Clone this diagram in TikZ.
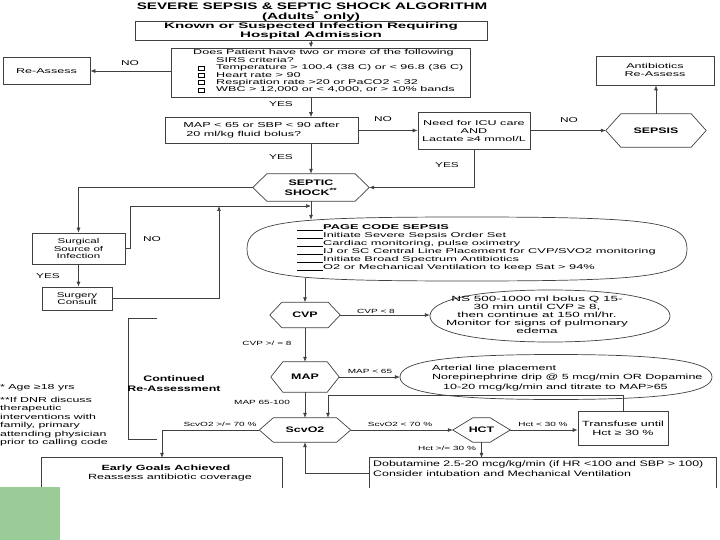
\documentclass[tikz,border=0pt]{standalone}
\usepackage{fontspec}
\setmainfont{Liberation Sans}
\usetikzlibrary{arrows.meta,calc}
\newcommand\fs[3]{\fontsize{#1}{#2}\selectfont\addfontfeature{FakeStretch=#3}}
\newcommand\sqbox{\hspace*{5pt}{\setlength{\fboxsep}{0pt}\setlength{\fboxrule}{0.5pt}\fbox{\rule{0pt}{3.5pt}\hspace{5.5pt}}}}
\newcommand\blank{\rule[-0.5pt]{26pt}{0.5pt}}
\definecolor{greenbox}{RGB}{155,204,152}
\tikzset{
 every node/.style={text=black},
 box/.style={draw=black!75, line width=0.7pt, rectangle, inner sep=0pt},
 ln/.style={draw=black!75, line width=0.7pt},
 arr/.style={ln, -{Latex[length=5pt,width=4pt]}},
 body/.style={font=\fs{7}{8}{1.8}, align=center},
 lab/.style={font=\fs{6}{7}{1.67}, inner sep=0pt},
 yn/.style={font=\fs{7}{8}{1.7}, inner sep=0pt},
 hextxt/.style={font=\bfseries\fs{8}{9.5}{1.55}, align=center, inner sep=0pt},
}
\newcommand\hexa[7]{%
 \node[hextxt, minimum width=#4pt, minimum height=#5pt] (#1) at (#2,#3) {#7};
 \draw[ln] (#1.west) -- ([xshift=#6pt]#1.north west) -- ([xshift=-#6pt]#1.north east) -- (#1.east) -- ([xshift=-#6pt]#1.south east) -- ([xshift=#6pt]#1.south west) -- cycle;}
\newcommand\ovalpath[5]{%
 \draw[ln] ({#1-#3},#2) .. controls ({#1-#3},{#2-#5*#4}) and ({#1-#5*#3},{#2-#4}) .. (#1,{#2-#4})
 .. controls ({#1+#5*#3},{#2-#4}) and ({#1+#3},{#2-#5*#4}) .. ({#1+#3},#2)
 .. controls ({#1+#3},{#2+#5*#4}) and ({#1+#5*#3},{#2+#4}) .. (#1,{#2+#4})
 .. controls ({#1-#5*#3},{#2+#4}) and ({#1-#3},{#2+#5*#4}) .. ({#1-#3},#2) -- cycle;}
\begin{document}
\begin{tikzpicture}[x=1pt,y=-1pt]
\useasboundingbox (0,0) rectangle (720,540);
\coordinate (c1) at (311,0);
\coordinate (c2) at (305,0);
\coordinate (c3) at (328,0);
\coordinate (join) at (311,206);
\coordinate (up1) at (219,206);

% title
\node[font=\bfseries\fs{9.5}{10}{1.6}, inner sep=0] (title) at (312,6) {SEVERE SEPSIS \& SEPTIC SHOCK ALGORITHM};
\node[font=\bfseries\fs{9}{10}{1.7}, inner sep=0] (adults) at (311,16.5) {(Adults\textsuperscript{*} only)};

\node[box, minimum width=352pt, minimum height=19pt, font=\bfseries\fs{8}{8.5}{1.9}, align=center] (known) at (311,31) {Known or Suspected Infection Requiring\\Hospital Admission};

% SIRS
\node[box, minimum width=299pt, minimum height=49pt] (sirs) at (320.5,72.5) {};
\node[anchor=north west, inner sep=0, font=\fs{7}{7.4}{1.8}] (sirstxt) at (193,49.5) {\begin{tabular}{@{}p{23pt}@{}l@{}}
\multicolumn{2}{@{}l@{}}{Does Patient have two or more of the following}\\
 & SIRS criteria?\\
\sqbox & Temperature > 100.4 (38 C) or < 96.8 (36 C)\\
\sqbox & Heart rate > 90\\
\sqbox & Respiration rate >20 or PaCO2 < 32\\
\sqbox & WBC > 12,000 or < 4,000, or > 10\% bands
\end{tabular}};

\node[box, minimum width=87pt, minimum height=27pt, body] (reassess) at (46.5,71) {Re-Assess};
\node[yn] (no1) at (130,63) {NO};
\node[yn] (yes1) at (281,104) {YES};

\node[box, minimum width=193pt, minimum height=26pt, font=\fs{7.2}{9}{1.75}, align=left] (mapq) at (261.5,130.5) {MAP < 65 or SBP < 90 after\\\hspace*{3pt}20 ml/kg fluid bolus?};
\node[yn] (no2) at (383,119) {NO};
\node[box, minimum width=112pt, minimum height=37pt, body] (icu) at (474,130.5) {Need for ICU care\\AND\\Lactate ≥4 mmol/L};
\node[yn] (no3) at (569,120) {NO};
\hexa{sepsis}{656}{130.5}{100}{33}{15}{SEPSIS}
\node[box, minimum width=118pt, minimum height=29pt, body] (abx) at (655,70.5) {Antibiotics\\Re-Assess};

\node[yn] (yes2) at (281,157) {YES};
\node[yn] (yes3) at (447,165) {YES};
\hexa{shock}{311}{187.5}{116}{27}{14}{SEPTIC\\SHOCK\textsuperscript{**}}

\node[box, minimum width=93pt, minimum height=31pt, font=\fs{7}{7.7}{1.65}, align=center] (surg) at (78.5,248.5) {Surgical\\Source of\\Infection};
\node[yn] (no4) at (152,239) {NO};
\node[yn] (yes4) at (48,276) {YES};
\node[box, minimum width=70pt, minimum height=23pt, font=\fs{7}{7.5}{1.65}, align=center] (consult) at (77,298.5) {Surgery\\Consult};

% PAGE oval
\node[minimum width=440pt, minimum height=64pt, inner sep=0] (page) at (467,249) {};
\ovalpath{467}{249}{220}{32}{0.85}
\node[anchor=north west, inner sep=0, font=\fs{7}{8}{1.83}] (pagetxt) at (297,224) {\begin{tabular}{@{}l@{}}
\blank\textbf{PAGE CODE SEPSIS}\\
\blank Initiate Severe Sepsis Order Set\\
\blank Cardiac monitoring, pulse oximetry\\
\blank IJ or SC Central Line Placement for CVP/SVO2 monitoring\\
\blank Initiate Broad Spectrum Antibiotics\\
\blank O2 or Mechanical Ventilation to keep Sat > 94\%
\end{tabular}};

% main column
\hexa{cvp}{305}{315}{70}{25}{12}{CVP}
\hexa{map}{305}{377}{68}{30}{12}{MAP}
\hexa{scv}{305}{430}{91}{24}{14}{ScvO2}
\hexa{hct}{481.5}{430}{57}{24}{20}{HCT}

\node[minimum width=240pt, minimum height=52pt, inner sep=0] (ns) at (550,316) {};
\ovalpath{550}{316}{120}{26}{0.62}
\node[font=\fs{7.5}{8}{1.8}, align=center, inner sep=0] (nstxt) at (537,315) {NS 500-1000 ml bolus Q 15-\\30 min until CVP ≥ 8,\\then continue at 150 ml/hr.\\Monitor for signs of pulmonary\\edema};

\node[minimum width=312pt, minimum height=45pt, inner sep=0] (art) at (556,377) {};
\ovalpath{556}{377}{156}{22.5}{0.7}
\node[anchor=west, font=\fs{7.5}{9.5}{1.67}, align=left, inner sep=0] (arttxt) at (432,378) {Arterial line placement\\Norepinephrine drip @ 5 mcg/min OR Dopamine\\\hspace*{11pt}10-20 mcg/kg/min and titrate to MAP>65};

\node[lab] (l1) at (376,311) {CVP < 8};
\node[lab] (l2) at (267,343) {CVP >/ = 8};
\node[lab] (l3) at (370,371) {MAP < 65};
\node[lab] (l4) at (262,402) {MAP 65-100};
\node[lab] (l5) at (220,424) {ScvO2 >/= 70 \%};
\node[lab] (l6) at (400,424) {ScvO2 < 70 \%};
\node[lab] (l7) at (543,424) {Hct < 30 \%};
\node[lab] (l8) at (447,448) {Hct >/= 30 \%};

\node[box, minimum width=90pt, minimum height=34pt, font=\fs{7.5}{9}{1.67}, align=center] (transf) at (623,428) {Transfuse until\\Hct ≥ 30 \%};

\node[minimum width=346pt, minimum height=30pt, inner sep=0] (dob) at (543,473) {};
\draw[ln] (dob.south west) -- (dob.north west) -- (dob.north east) -- (dob.south east);
\node[anchor=north west, inner sep=0, font=\fs{8}{10}{1.55}, align=left] (dobtxt) at (373,460) {Dobutamine 2.5-20 mcg/kg/min (if HR <100 and SBP > 100)\\Consider intubation and Mechanical Ventilation};

\node[minimum width=240pt, minimum height=30pt, inner sep=0] (goals) at (162,473) {};
\draw[ln] (goals.south west) -- (goals.north west) -- (goals.north east) -- (goals.south east);
\node[font=\fs{7.5}{8.5}{1.68}, align=center, inner sep=0] (goalstxt) at (166,473) {\textbf{Early Goals Achieved}\\\hspace*{8pt}Reassess antibiotic coverage};

% continued re-assessment bracket
\draw[ln] (157,318) -- (128,318) -- (128,439) -- (157,439);
\node[font=\bfseries\fs{8}{10}{1.55}, align=center, inner sep=0] (cont) at (174,384) {Continued\\Re-Assessment};

% footnotes
\node[anchor=west, inner sep=0, font=\fs{7.3}{8.5}{1.7}] (fn1) at (0,388) {* Age ≥18 yrs};
\node[anchor=west, inner sep=0, font=\fs{7.3}{8.5}{1.7}, align=left] (fn2) at (0,421.5) {**If DNR discuss\\therapeutic\\interventions with\\family, primary\\attending physician\\prior to calling code};

\fill[greenbox] (0,487) rectangle (60,540);

% connectors
\draw[arr] (known.south) -- (known.south |- sirs.north);
\draw[arr] (sirs.west |- reassess.east) -- (reassess.east);
\draw[arr] (c1 |- sirs.south) -- (c1 |- mapq.north);
\draw[arr] (mapq.east) -- (icu.west);
\draw[arr] (icu.east) -- (sepsis.west);
\draw[arr] (sepsis.north) -- (sepsis.north |- abx.south);
\draw[arr] (icu.south) |- (shock.east);
\draw[arr] (c1 |- mapq.south) -- (shock.north);
\draw[arr] (shock.west) -| (surg.north);
\draw[arr] (surg.east) -- ++(5,0) |- (join);
\draw[arr] (surg.south) -- (surg.south |- consult.north);
\draw[arr] (consult.east) -| (up1);
\draw[arr] (shock.south) -- ($(c1 |- page.north)+(0,3)$);
\draw[arr] ($(c2 |- page.south)+(0,-3)$) -- (cvp.north);
\draw[arr] (cvp.east) -- (cvp.east -| ns.west);
\draw[arr] (cvp.south) -- (map.north);
\draw[arr] (map.east) -- (map.east -| art.west);
\draw[arr] (map.south) -- (scv.north);
\draw[arr] (scv.east) -- (hct.west);
\draw[arr] (hct.east) -- (hct.east -| transf.west);
\draw[arr] (hct.south) -- (hct.south |- dob.north);
\draw[arr] (transf.north) -- ++(0,-15) -| (c3 |- scv.north);
\draw[arr] (dob.west) -| (scv.south);
\draw[arr] (scv.west) -| (goals.north);
\end{tikzpicture}
\end{document}
